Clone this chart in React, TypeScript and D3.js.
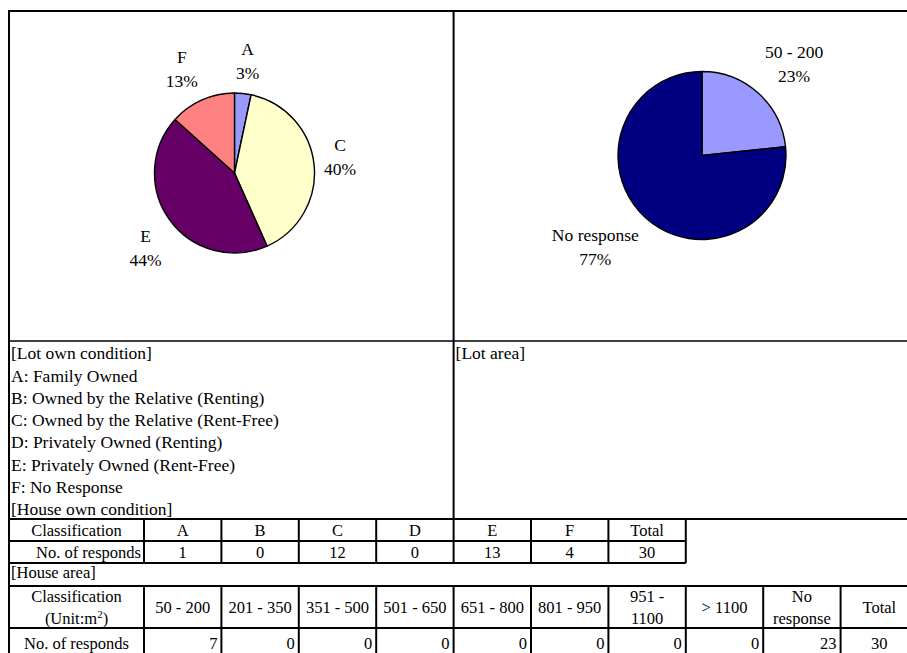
'use client'
import React, { useEffect, useRef } from 'react';
import * as d3 from 'd3';

// house own condition
const ownCategories = ['A', 'B', 'C', 'D', 'E', 'F'];
const ownCounts = [1, 0, 12, 0, 13, 4];
const ownPercents = ['3%', '0%', '40%', '0%', '44%', '13%'];
const ownTotal = 30;
const ownColors = ['#9999FF', '#993366', '#FFFFCC', '#CCFFFF', '#660066', '#FF8080'];

// house area
const areaCategories = ['50 - 200', '201 - 350', '351 - 500', '501 - 650', '651 - 800', '801 - 950', '951 - 1100', '> 1100', 'No response'];
const areaHeaders = [['50 - 200'], ['201 - 350'], ['351 - 500'], ['501 - 650'], ['651 - 800'], ['801 - 950'], ['951 -', '1100'], ['> 1100'], ['No', 'response']];
const areaCounts = [7, 0, 0, 0, 0, 0, 0, 0, 23];
const areaPercents = ['23%', '0%', '0%', '0%', '0%', '0%', '0%', '0%', '77%'];
const areaTotal = 30;
const areaColors = ['#9999FF', '#993366', '#FFFFCC', '#CCFFFF', '#660066', '#FF8080', '#0066CC', '#CCCCFF', '#000080'];

const legendLines = [
  '[Lot own condition]',
  'A: Family Owned',
  'B: Owned by the Relative (Renting)',
  'C: Owned by the Relative (Rent-Free)',
  'D: Privately Owned (Renting)',
  'E: Privately Owned (Rent-Free)',
  'F: No Response',
  '[House own condition]',
];

const FONT = '"Liberation Serif", "Times New Roman", serif';

const App: React.FC = () => {
  const svgRef = useRef<SVGSVGElement | null>(null);

  useEffect(() => {
    const width = 907;
    const height = 653;
    const svg = d3.select(svgRef.current)
      .attr('width', width)
      .attr('height', height)
      .style('font-family', FONT);
    svg.selectAll('*').remove();
    svg.append('rect').attr('width', width).attr('height', height).attr('fill', '#fff');

    const left = 9;
    const firstCol = 144;
    const col = d3.scaleBand<number>().domain(d3.range(10)).range([firstCol, firstCol + 10 * 77.4]);
    const divX = col(4)!;
    const tableFs = 16.5;
    const labelFs = 17.5;

    const line = (x1: number, y1: number, x2: number, y2: number, w = 2) =>
      svg.append('line').attr('x1', x1).attr('y1', y1).attr('x2', x2).attr('y2', y2)
        .attr('stroke', '#000').attr('stroke-width', w);

    const text = (x: number, y: number, s: string, anchor = 'middle', size = tableFs) =>
      svg.append('text').attr('x', x).attr('y', y).attr('dy', '0.35em')
        .attr('text-anchor', anchor).style('font-size', `${size}px`).text(s);

    // pies, labels outside with the nearest corner of the label box on the mid angle
    const drawPie = (cx: number, cy: number, r: number, counts: number[], names: string[], pcts: string[], colors: string[]) => {
      const pie = d3.pie<number>().sort(null).value(d => d);
      const arcs = pie(counts).filter(a => a.value > 0);
      const arc = d3.arc<d3.PieArcDatum<number>>().innerRadius(0).outerRadius(r);
      const labelArc = d3.arc<d3.PieArcDatum<number>>().innerRadius(r + 10).outerRadius(r + 10);
      const g = svg.append('g').attr('transform', `translate(${cx},${cy})`);
      g.selectAll('path').data(arcs).join('path')
        .attr('d', arc as any)
        .attr('fill', d => colors[d.index])
        .attr('stroke', '#000')
        .attr('stroke-width', 1.4)
        .attr('stroke-linejoin', 'round');

      arcs.forEach(a => {
        const mid = (a.startAngle + a.endAngle) / 2;
        const t = g.append('text').attr('text-anchor', 'middle').style('font-size', `${labelFs}px`);
        t.append('tspan').attr('x', 0).attr('y', 0).text(names[a.index]);
        t.append('tspan').attr('x', 0).attr('y', 24).text(pcts[a.index]);
        const bb = (t.node() as SVGTextElement).getBBox();
        const s = Math.sin(mid), c = Math.cos(mid);
        const [px, py] = labelArc.centroid(a);
        const lx = px + (bb.width / 2) * Math.sign(s) * Math.min(1, Math.abs(s) * 3);
        const ly = py - (bb.height / 2) * Math.sign(c) * Math.min(1, Math.abs(c) * 3);
        t.attr('transform', `translate(${lx - (bb.x + bb.width / 2)},${ly - (bb.y + bb.height / 2)})`);
      });
    };

    drawPie(234.5, 173, 80, ownCounts, ownCategories, ownPercents, ownColors);
    drawPie(702, 155.5, 84, areaCounts, areaCategories, areaPercents, areaColors);

    // frame of the chart area
    line(8, 11, width, 11);
    line(left, 10, left, height);
    line(divX, 10, divX, 519);
    line(left, 341, width, 341, 1.5);

    // legend
    const rowH = (519 - 341) / legendLines.length;
    legendLines.forEach((s, i) => text(left + 2, 341 + rowH * (i + 0.5) + 1, s, 'start', labelFs));
    text(divX + 2, 341 + rowH * 0.5 + 1, '[Lot area]', 'start', labelFs);

    // house own table
    const t1 = [519, 541, 563];
    const t1Right = col(6)! + col.bandwidth();
    line(left, t1[0], width, t1[0]);
    line(left, t1[1], t1Right, t1[1]);
    line(left, t1[2], t1Right, t1[2]);
    d3.range(8).forEach(i => {
      const x = i === 0 ? firstCol : col(i - 1)! + col.bandwidth();
      line(x, t1[0], x, t1[2]);
    });
    const r1 = (t1[0] + t1[1]) / 2, r2 = (t1[1] + t1[2]) / 2;
    text((left + firstCol) / 2, r1, 'Classification');
    text(firstCol - 3, r2, 'No. of responds', 'end');
    [...ownCategories, 'Total'].forEach((s, i) => text(col(i)! + col.bandwidth() / 2, r1, s));
    [...ownCounts, ownTotal].forEach((v, i) => text(col(i)! + col.bandwidth() / 2, r2, String(v)));

    // house area table
    text(left + 2, 572, '[House area]', 'start', tableFs);
    const t2 = [586, 628];
    line(left, t2[0], width, t2[0]);
    line(left, t2[1], width, t2[1]);
    d3.range(10).forEach(i => {
      const x = col(i)!;
      line(x, t2[0], x, height);
    });
    const h1 = (t2[0] + t2[1]) / 2;
    const h2 = t2[1] + 15;
    text((left + firstCol) / 2, h1 - 11, 'Classification');
    const c2 = svg.append('text').attr('x', (left + firstCol) / 2).attr('y', h1 + 11).attr('dy', '0.35em')
      .attr('text-anchor', 'middle').style('font-size', `${tableFs}px`);
    c2.append('tspan').text('(Unit:m');
    c2.append('tspan').attr('dy', -6).style('font-size', '11px').text('2');
    c2.append('tspan').attr('dy', 6).text(')');
    [...areaHeaders, ['Total']].forEach((lines, i) => {
      const x = col(i)! + col.bandwidth() / 2;
      lines.forEach((s, j) => text(x, h1 + (j - (lines.length - 1) / 2) * 22, s));
    });
    text((left + firstCol) / 2, h2, 'No. of responds');
    areaCounts.forEach((v, i) => text(col(i)! + col.bandwidth() - 4, h2, String(v), 'end'));
    text(col(9)! + col.bandwidth() / 2, h2, String(areaTotal));
  }, []);

  return <svg ref={svgRef} style={{ position: 'absolute', left: 0, top: 0, display: 'block' }}></svg>;
};

export default App;
